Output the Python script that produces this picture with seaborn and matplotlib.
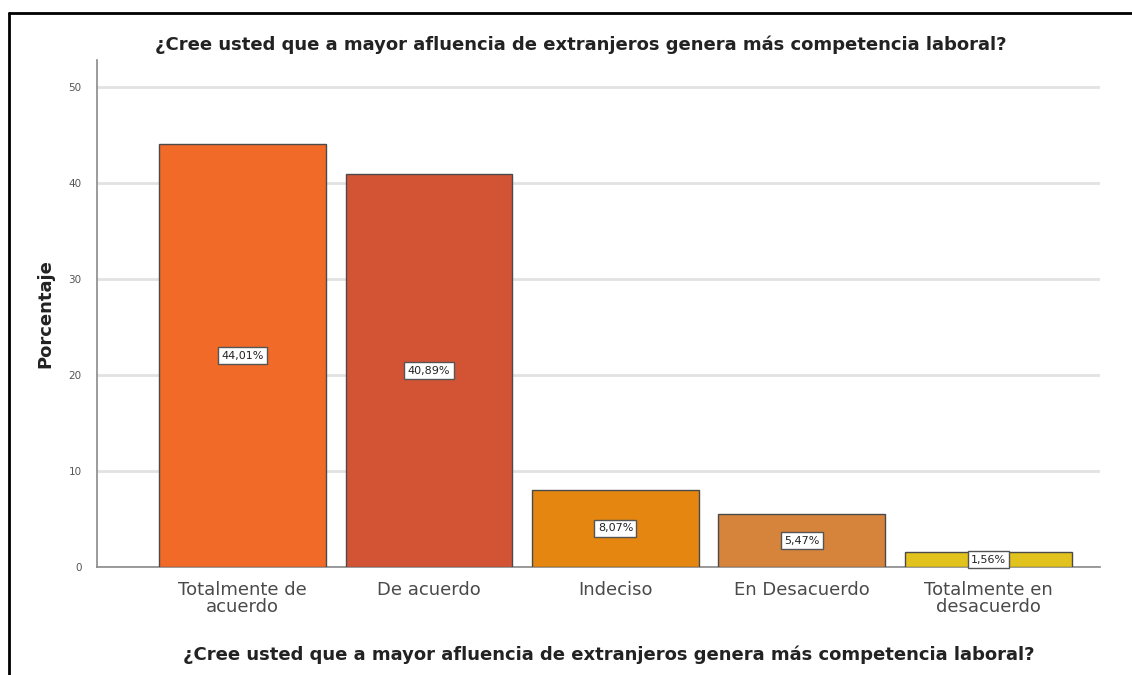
import numpy as np
import pandas as pd
import seaborn as sns
import matplotlib.pyplot as plt
from matplotlib.lines import Line2D

# data
categorias = ['Totalmente de\nacuerdo', 'De acuerdo', 'Indeciso', 'En Desacuerdo', 'Totalmente en\ndesacuerdo']
porcentaje = [44.01, 40.89, 8.07, 5.47, 1.56]
colores = ['#F26A28', '#D35434', '#E4860F', '#D6843C', '#E2C21D']
pregunta = '¿Cree usted que a mayor afluencia de extranjeros genera más competencia laboral?'

df = pd.DataFrame({'cat': categorias, 'pct': porcentaje})

sns.set_style('white')
plt.rcParams['font.family'] = ['DejaVu Sans']

fig = plt.figure(figsize=(11.32, 6.75), dpi=100)
ax = fig.add_axes([0.0857, 0.16, 0.8863, 0.751])

sns.barplot(data=df, x='cat', y='pct', hue='cat', palette=colores, legend=False,
            saturation=1, width=0.895, edgecolor='#4a4a4a', linewidth=1.0, ax=ax, zorder=3)

ax.set_ylim(0, 52.8)
ax.set_xlim(-0.78, 4.6)
ax.set_yticks([0, 10, 20, 30, 40, 50])
ax.yaxis.grid(True, color='#e2e2e2', linewidth=2, zorder=0)
ax.set_axisbelow(True)

for s in ['top', 'right']:
    ax.spines[s].set_visible(False)
for s in ['left', 'bottom']:
    ax.spines[s].set_color('#8a8a8a')
    ax.spines[s].set_linewidth(1.2)

ax.tick_params(axis='y', length=3, color='#8a8a8a', labelsize=7.5, labelcolor='#555555', pad=8)
ax.tick_params(axis='x', length=0, labelsize=13, labelcolor='#4a4a4a', pad=10)

for lbl in ax.get_xticklabels():
    lbl.set_linespacing(0.95)

# value labels in the middle of each bar
for i, v in enumerate(porcentaje):
    ax.text(i, v / 2, f'{v:.2f}%'.replace('.', ','), ha='center', va='center',
            fontsize=8, color='#222222', zorder=5,
            bbox=dict(boxstyle='square,pad=0.3', facecolor='white', edgecolor='#555555', linewidth=1))

ax.set_ylabel('Porcentaje', fontsize=13, fontweight='bold', color='#222222', labelpad=10)
ax.set_xlabel(pregunta, fontsize=13, fontweight='bold', color='#222222', labelpad=21)
ax.xaxis.set_label_coords(0.51, -0.155)
fig.text(0.513, 0.933, pregunta, ha='center', va='center', fontsize=13,
         fontweight='bold', color='#222222')

# black frame on top and left
fig.add_artist(Line2D([0.008, 1.0], [0.981, 0.981], color='black', linewidth=2, transform=fig.transFigure))
fig.add_artist(Line2D([0.008, 0.008], [0.0, 0.981], color='black', linewidth=2, transform=fig.transFigure))

fig.savefig('out.png', dpi=100)
